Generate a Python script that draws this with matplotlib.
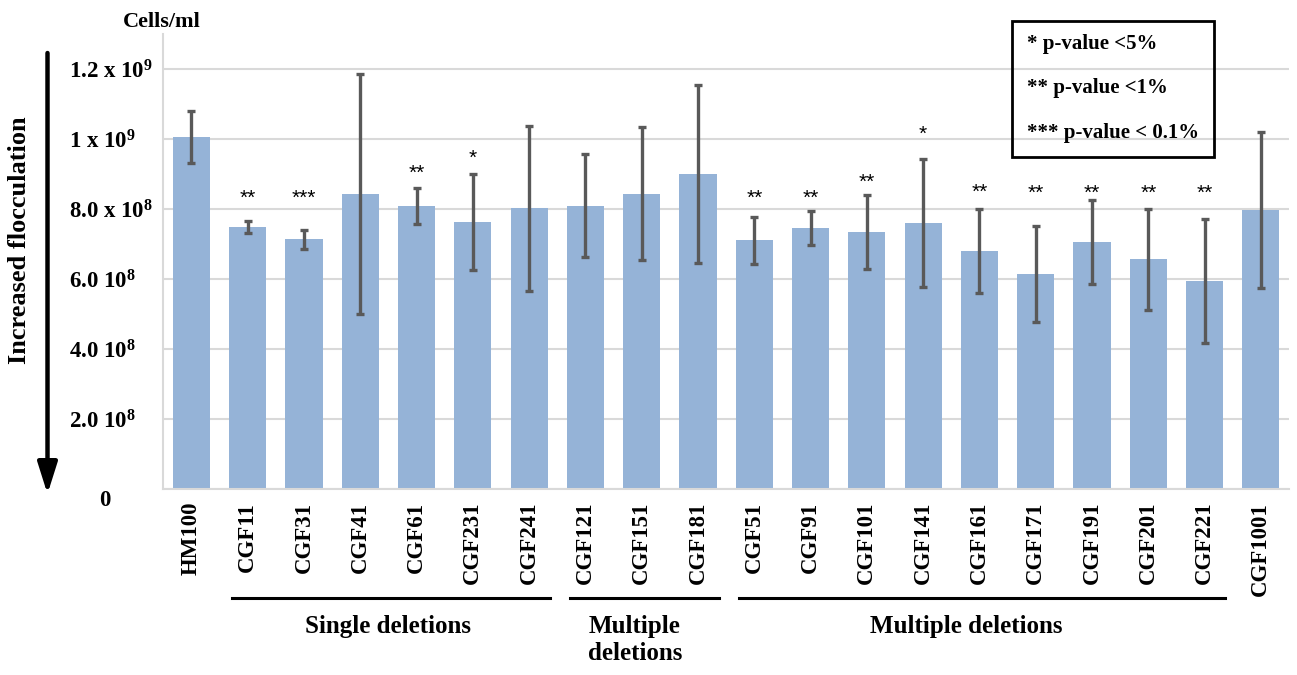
import numpy as np
import matplotlib.pyplot as plt
from matplotlib.patches import Rectangle
from matplotlib.transforms import ScaledTranslation, blended_transform_factory

plt.rcParams['font.family'] = ['Liberation Serif', 'DejaVu Serif']
plt.rcParams['font.weight'] = 'bold'
plt.rcParams['mathtext.fontset'] = 'custom'
plt.rcParams['mathtext.rm'] = 'Liberation Serif:bold'
plt.rcParams['mathtext.it'] = 'Liberation Serif:bold'
plt.rcParams['mathtext.bf'] = 'Liberation Serif:bold'

# strains and mean cell counts (cells/ml) with standard deviations
strains = ['HM100', 'CGF11', 'CGF31', 'CGF41', 'CGF61', 'CGF231', 'CGF241',
           'CGF121', 'CGF151', 'CGF181',
           'CGF51', 'CGF91', 'CGF101', 'CGF141', 'CGF161', 'CGF171', 'CGF191',
           'CGF201', 'CGF221', 'CGF1001']
cells = np.array([1.007, 0.750, 0.714, 0.844, 0.810, 0.763, 0.803,
                  0.810, 0.844, 0.901,
                  0.711, 0.747, 0.735, 0.760, 0.681, 0.615, 0.706,
                  0.657, 0.596, 0.798]) * 1e9
sd = np.array([0.075, 0.018, 0.028, 0.343, 0.052, 0.137, 0.235,
               0.147, 0.190, 0.254,
               0.067, 0.049, 0.106, 0.183, 0.119, 0.136, 0.120,
               0.145, 0.177, 0.222]) * 1e9

# significance marks and the height where they are written
stars = ['', '**', '***', '', '**', '*', '',
         '', '', '',
         '**', '**', '**', '*', '**', '**', '**', '**', '**', '']
star_y = np.array([0, 0.830, 0.830, 0, 0.903, 0.945, 0,
                   0, 0, 0,
                   0.830, 0.830, 0.877, 1.015, 0.848, 0.846, 0.846,
                   0.846, 0.846, 0]) * 1e9

# strain groups: (first index, last index, label, label centre)
groups = [(1, 6, 'Single deletions', 3.5),
          (7, 9, 'Multiple\ndeletions', 7.88),
          (10, 18, 'Multiple deletions', 13.77)]

yticks = [0, 2e8, 4e8, 6e8, 8e8, 1e9, 1.2e9]
ytick_labels = ['0', '2.0 10$^{8}$', '4.0 10$^{8}$', '6.0 10$^{8}$',
                '8.0 x 10$^{8}$', '1 x 10$^{9}$', '1.2 x 10$^{9}$']

legend_lines = ['* p-value <5%', '** p-value <1%', '*** p-value < 0.1%']

W, H = 1297, 675
fig = plt.figure(figsize=(W / 100, H / 100), dpi=100)
ax = fig.add_axes([163.3 / W, 1 - 489.3 / H, (1289 - 163.3) / W, (489.3 - 34.3) / H])

x = np.arange(len(strains))
ax.bar(x, cells, width=0.66, color='#95B3D7', zorder=2)
ax.errorbar(x, cells, yerr=sd, fmt='none', ecolor='#595959', elinewidth=2.4,
            capsize=3, capthick=2.4, zorder=3)

for xi, s, yy in zip(x, stars, star_y):
    if s:
        ax.text(xi, yy, s, ha='center', va='center', fontsize=15,
                fontweight='normal', family='Liberation Sans')

ax.set_xlim(-0.5, len(strains) - 0.5)
ax.set_ylim(0, 1.3e9)
ax.set_yticks(yticks)
ax.set_yticklabels(ytick_labels, fontsize=16.5, ha='left')
ax.tick_params(axis='y', length=0, pad=94 * 72 / 100)
ax.tick_params(axis='x', length=0, pad=9)
ax.set_xticks(x)
ax.set_xticklabels(strains, rotation=90, fontsize=16.5, va='top')

# the zero label sits centred under the others
zero = ax.get_yticklabels()[0]
zero.set_transform(zero.get_transform() + ScaledTranslation(0.3, -0.09, fig.dpi_scale_trans))

ax.grid(axis='y', color='#D9D9D9', linewidth=1.5, zorder=0)
for side in ['top', 'right']:
    ax.spines[side].set_visible(False)
for side in ['left', 'bottom']:
    ax.spines[side].set_color('#D9D9D9')
    ax.spines[side].set_linewidth(1.5)

# group brackets under the strain names
tr = blended_transform_factory(ax.transData, fig.transFigure)
line_y = 1 - 598 / H
for start, end, label, cx in groups:
    ax.plot([start - 0.28, end + 0.37], [line_y, line_y], color='black', lw=2.2,
            transform=tr, clip_on=False)
    ax.text(cx, 1 - 615 / H, label, transform=tr, ha='center',
            va='top', fontsize=18, linespacing=1.25)

fig.text(162 / W, 1 - 22 / H, 'Cells/ml', ha='center', va='center', fontsize=16)
fig.text(20 / W, 1 - 240 / H, 'Increased flocculation', rotation=90,
         ha='center', va='center', fontsize=19)
ax.annotate('', xy=(47.5, H - 494), xytext=(47.5, H - 53),
            xycoords='figure pixels', textcoords='figure pixels',
            arrowprops=dict(arrowstyle='-|>,head_length=19,head_width=6',
                            mutation_scale=1, lw=3.2, color='black',
                            shrinkA=0, shrinkB=0))

# significance key
fig.add_artist(Rectangle((1012 / W, 1 - 157 / H), 202 / W, 136 / H,
                         transform=fig.transFigure, fill=False,
                         edgecolor='black', lw=2))
for i, t in enumerate(legend_lines):
    fig.text(1027 / W, 1 - (44 + 44.5 * i) / H, t, ha='left', va='center',
             fontsize=15)

fig.savefig('out.png', dpi=100)
